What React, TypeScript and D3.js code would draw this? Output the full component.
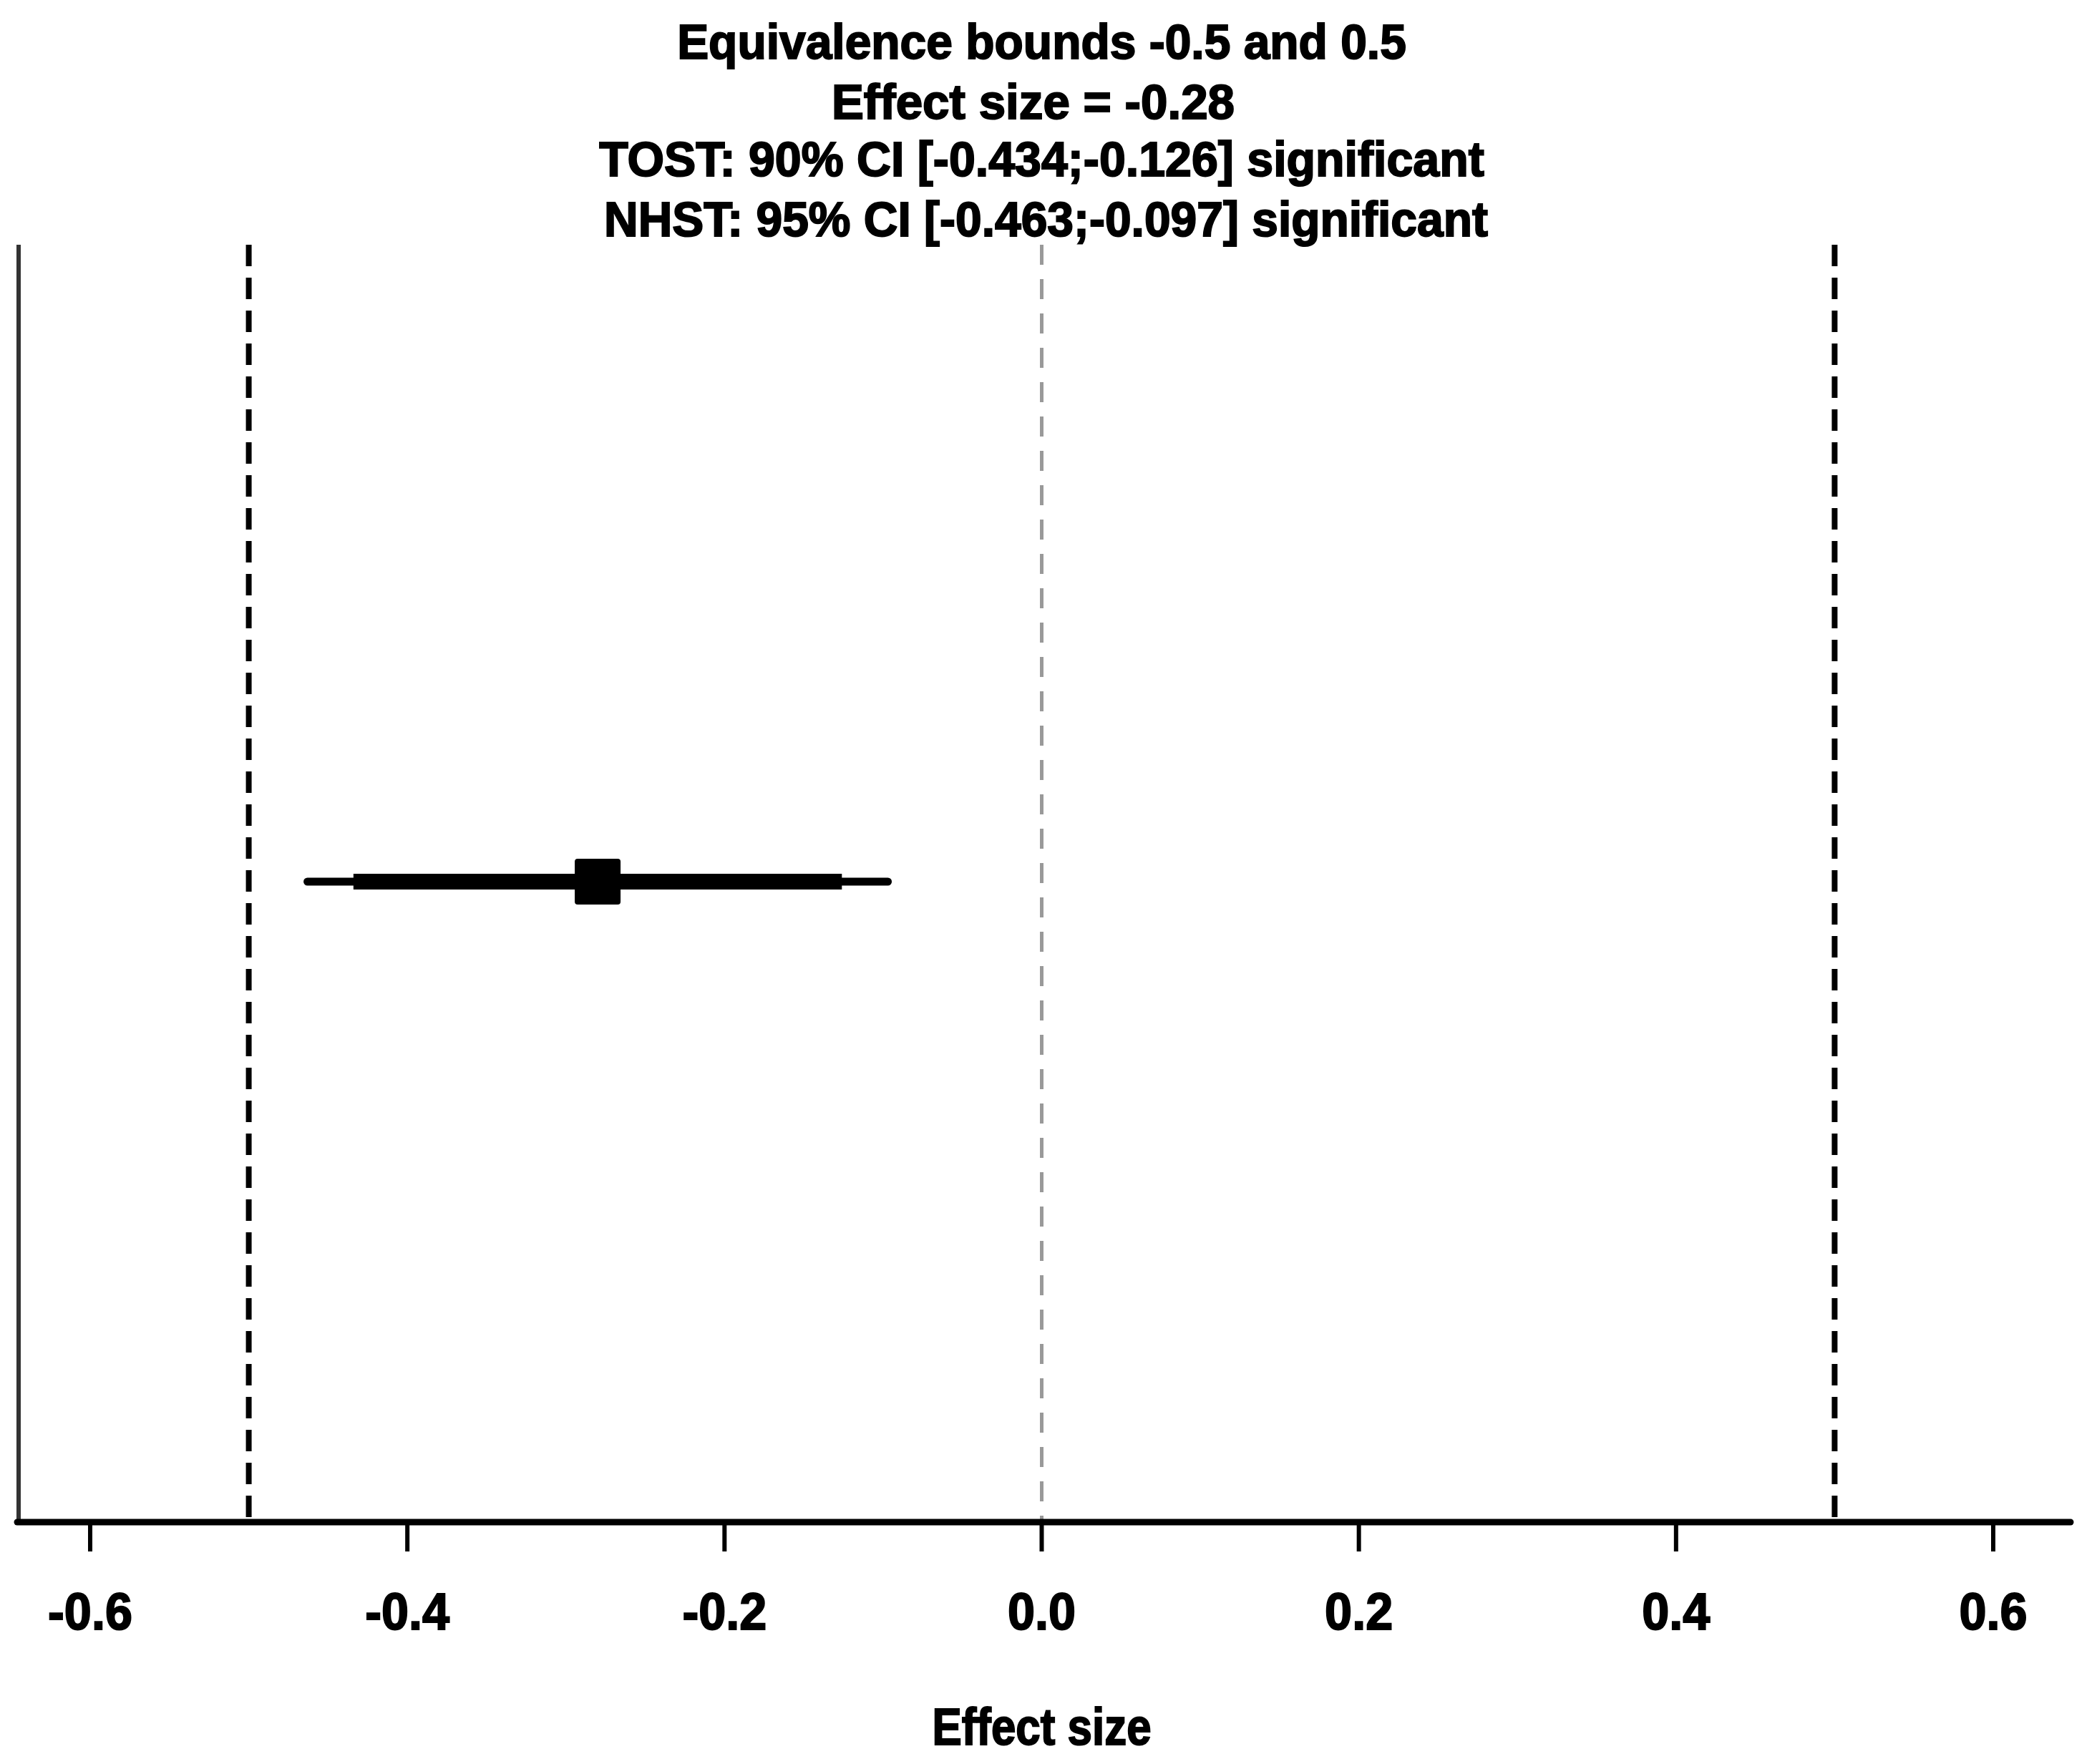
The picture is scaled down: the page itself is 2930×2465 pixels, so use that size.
import React, { useEffect } from 'react';
import * as d3 from 'd3';

const xTicks = [-0.6, -0.4, -0.2, 0.0, 0.2, 0.4, 0.6];
const bounds = [-0.5, 0.5];
const effectSize = -0.28;
const tostCI = [-0.434, -0.126];
const nhstCI = [-0.463, -0.097];
const titleLines = [
  'Equivalence bounds -0.5 and 0.5',
  'Effect size = -0.28',
  'TOST: 90% CI [-0.434;-0.126] significant',
  'NHST: 95% CI [-0.463;-0.097] significant',
];
const xLabel = 'Effect size';

const W = 2930,
  H = 2465;
const font = '"Liberation Sans", Arial, sans-serif';

export default function App() {
  useEffect(() => {
    document.body.style.margin = '0';
  }, []);

  const x = d3.scaleLinear().domain([-0.6, 0.6]).range([126, 2785]);
  const top = 342,
    axisY = 2127,
    rowY = 1232;
  const titleY = [82, 166, 246, 330];
  const titleScale = [0.97, 0.99, 0.975, 0.97];
  const titleDx = [0, -12, 0, 6];

  return (
    <svg width={W} height={H} viewBox={`0 0 ${W} ${H}`} style={{ display: 'block', background: '#fff' }}>
      {/* titles */}
      {titleLines.map((t, i) => (
        <text
          key={t}
          transform={`translate(${x(0) + titleDx[i]},${titleY[i]}) scale(${titleScale[i]},1)`}
          textAnchor="middle"
          fontFamily={font}
          fontWeight="bold"
          fontSize={68}
          fill="#000"
          stroke="#000"
          strokeWidth={2}
        >
          {t}
        </text>
      ))}

      {/* left frame line */}
      <line x1={26} x2={26} y1={top} y2={axisY} stroke="#333" strokeWidth={6} />

      {/* zero line */}
      <line
        x1={x(0)}
        x2={x(0)}
        y1={top}
        y2={axisY}
        stroke="#999"
        strokeWidth={5}
        strokeDasharray="28 20"
      />

      {/* equivalence bounds */}
      {bounds.map(b => (
        <line
          key={b}
          x1={x(b)}
          x2={x(b)}
          y1={top}
          y2={axisY}
          stroke="#000"
          strokeWidth={8}
          strokeDasharray="30 16"
        />
      ))}

      {/* x axis */}
      <line x1={24} x2={2893} y1={axisY} y2={axisY} stroke="#000" strokeWidth={9} strokeLinecap="round" />
      {xTicks.map(t => (
        <g key={t}>
          <line x1={x(t)} x2={x(t)} y1={axisY} y2={axisY + 41} stroke="#000" strokeWidth={6} />
          <text
            transform={`translate(${x(t)},2277) scale(0.95,1)`}
            textAnchor="middle"
            fontFamily={font}
            fontWeight="bold"
            fontSize={72}
            fill="#000"
            stroke="#000"
            strokeWidth={2}
          >
            {t.toFixed(1)}
          </text>
        </g>
      ))}
      <text
        transform={`translate(${x(0)},2438) scale(0.86,1)`}
        textAnchor="middle"
        fontFamily={font}
        fontWeight="bold"
        fontSize={72}
        fill="#000"
        stroke="#000"
        strokeWidth={2}
      >
        {xLabel}
      </text>

      {/* estimate with CIs */}
      <line
        x1={x(nhstCI[0])}
        x2={x(nhstCI[1])}
        y1={rowY}
        y2={rowY}
        stroke="#000"
        strokeWidth={11}
        strokeLinecap="round"
      />
      <line x1={x(tostCI[0])} x2={x(tostCI[1])} y1={rowY} y2={rowY} stroke="#000" strokeWidth={22} />
      <rect x={x(effectSize) - 32} y={rowY - 32} width={64} height={64} rx={4} fill="#000" />
    </svg>
  );
}
